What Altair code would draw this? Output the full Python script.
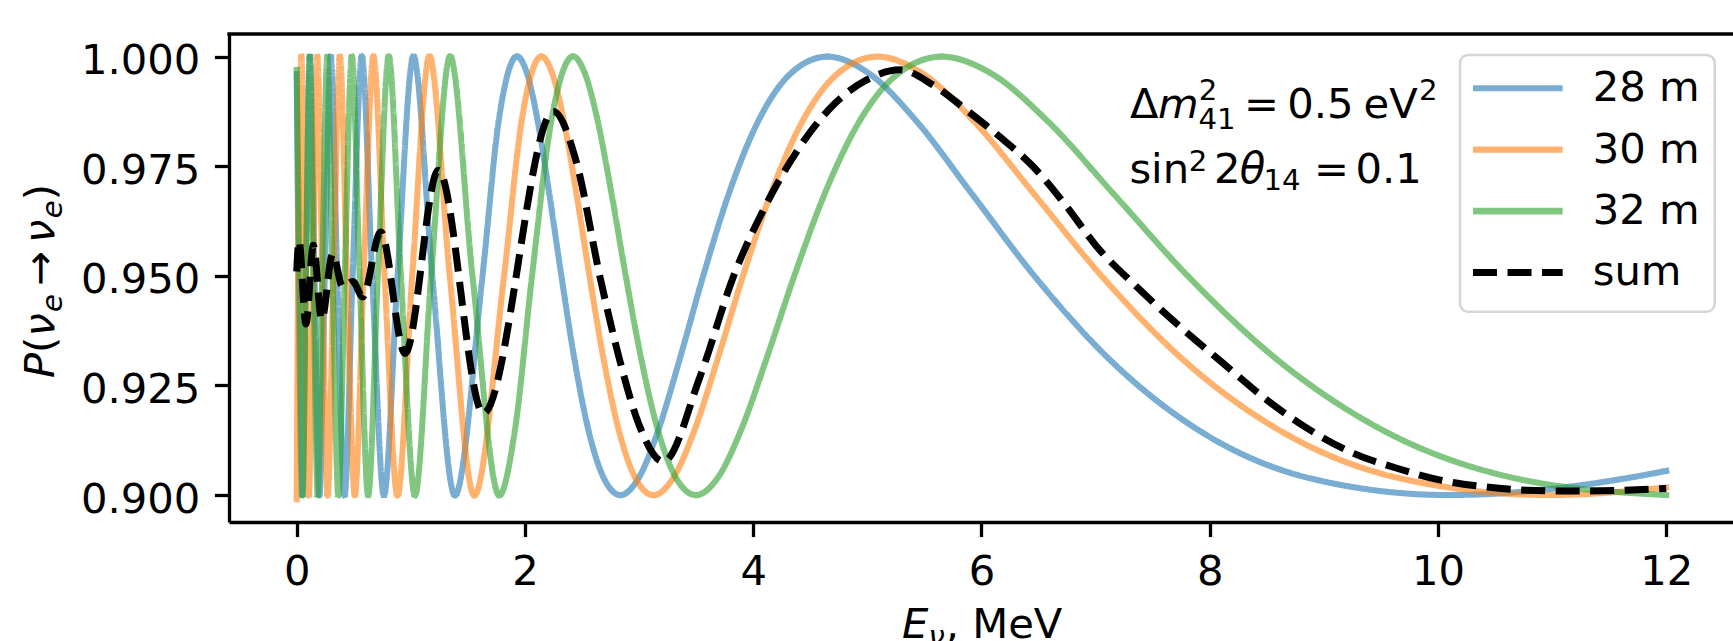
import altair as alt
import pandas as pd

FONT = "DejaVu Sans"
FS = 41.7      # main font size (px)
SFS = 29.2     # sub/superscript font size (px)

SERIES = ["28 m", "30 m", "32 m", "sum"]
COLORS = ["#1f77b4", "#ff7f0e", "#2ca02c", "#000000"]
LEGEND_COLORS = ["#79add2", "#ffb26e", "#80c680", "#000000"]   # colours at 0.6 alpha on white
OPACITY = [0.6, 0.6, 0.6, 1.0]
WIDTHS = [6.0, 6.0, 6.0, 7.0]
DASHES = [[1, 0], [1, 0], [1, 0], [24, 10.5]]

X_TICKS = [0, 2, 4, 6, 8, 10, 12]
Y_TICKS = [0.900, 0.925, 0.950, 0.975, 1.000]

# 28 m
E_28 = [0.0, 0.016, 0.047, 0.080, 0.117, 0.156, 0.199, 0.246, 0.298, 0.355, 0.419, 0.490,
        0.570, 0.661, 0.764, 0.884, 1.023, 1.188, 1.386, 1.628, 1.770, 1.930, 2.018, 2.111,
        2.211, 2.319, 2.434, 2.558, 2.692, 2.837, 2.994, 3.166, 3.355, 3.562, 3.791, 4.046,
        4.330, 4.650, 5.013, 5.427, 5.905, 6.463, 7.123, 7.914, 8.881, 10.09, 11.644, 12.0]
P_28 = [0.996, 0.95, 0.90, 0.95, 1.0, 0.95, 0.90, 0.95, 1.0, 0.95, 0.90, 0.95,
        1.0, 0.95, 0.90, 0.95, 1.0, 0.95, 0.90, 0.95, 0.9854, 1.0, 0.9962, 0.9854,
        0.9691, 0.95, 0.9309, 0.9146, 0.9038, 0.90, 0.9038, 0.9146, 0.9309, 0.95, 0.9691, 0.9854,
        0.9962, 1.0, 0.9962, 0.9854, 0.9691, 0.95, 0.9309, 0.9146, 0.9038, 0.90, 0.9038, 0.9055]

# 30 m
E_30 = [0.0, 0.012, 0.041, 0.072, 0.106, 0.142, 0.181, 0.224, 0.271, 0.322, 0.378, 0.440,
        0.509, 0.586, 0.672, 0.770, 0.883, 1.012, 1.163, 1.341, 1.556, 1.817, 1.971, 2.144,
        2.239, 2.341, 2.449, 2.565, 2.690, 2.824, 2.969, 3.126, 3.297, 3.483, 3.687, 3.911,
        4.159, 4.434, 4.742, 5.089, 5.481, 5.930, 6.448, 7.052, 7.765, 8.622, 9.669, 10.978, 12.0]
P_30 = [0.899, 0.95, 1.0, 0.95, 0.90, 0.95, 1.0, 0.95, 0.90, 0.95, 1.0, 0.95,
        0.90, 0.95, 1.0, 0.95, 0.90, 0.95, 1.0, 0.95, 0.90, 0.95, 0.9854, 1.0,
        0.9962, 0.9854, 0.9691, 0.95, 0.9309, 0.9146, 0.9038, 0.90, 0.9038, 0.9146, 0.9309, 0.95,
        0.9691, 0.9854, 0.9962, 1.0, 0.9962, 0.9854, 0.9691, 0.95, 0.9309, 0.9146, 0.9038, 0.90, 0.9017]

# 32 m
E_32 = [0.0, 0.024, 0.052, 0.081, 0.113, 0.147, 0.184, 0.224, 0.267, 0.314, 0.365, 0.421,
        0.483, 0.551, 0.626, 0.711, 0.806, 0.913, 1.036, 1.178, 1.344, 1.540, 1.775, 1.911,
        2.062, 2.231, 2.421, 2.525, 2.637, 2.756, 2.883, 3.020, 3.167, 3.326, 3.498, 3.686,
        3.890, 4.114, 4.360, 4.632, 4.934, 5.272, 5.653, 6.083, 6.576, 7.144, 7.807, 8.590,
        9.530, 10.679, 12.0]
P_32 = [0.997, 0.95, 0.90, 0.95, 1.0, 0.95, 0.90, 0.95, 1.0, 0.95, 0.90, 0.95,
        1.0, 0.95, 0.90, 0.95, 1.0, 0.95, 0.90, 0.95, 1.0, 0.95, 0.90, 0.9146,
        0.95, 0.9854, 1.0, 0.9962, 0.9854, 0.9691, 0.95, 0.9309, 0.9146, 0.9038, 0.90, 0.9038,
        0.9146, 0.9309, 0.95, 0.9691, 0.9854, 0.9962, 1.0, 0.9962, 0.9854, 0.9691, 0.95, 0.9309,
        0.9146, 0.9038, 0.900]

# sum
E_SUM = [0.0, 0.02, 0.081, 0.146, 0.219, 0.315, 0.403, 0.491, 0.578, 0.736, 0.949, 1.241,
         1.635, 2.249, 2.45, 2.657, 2.83, 3.0, 3.212, 3.534, 3.826, 4.118, 4.41, 4.702,
         4.994, 5.286, 5.578, 5.87, 6.162, 6.454, 6.747, 7.0, 7.36, 7.74, 8.12, 8.50,
         8.88, 9.26, 9.64, 10.02, 10.40, 10.78, 11.16, 11.54, 12.0]
P_SUM = [0.951, 0.958, 0.939, 0.957, 0.940, 0.955, 0.9475, 0.9487, 0.9452, 0.960, 0.9323, 0.9741,
         0.9186, 0.9875, 0.976, 0.9498, 0.9308, 0.916, 0.9076, 0.927, 0.9498, 0.9665, 0.9795, 0.9890,
         0.9947, 0.997, 0.9935, 0.9878, 0.9817, 0.9749, 0.9658, 0.957, 0.9475, 0.9384, 0.930, 0.9217,
         0.9148, 0.9095, 0.9061, 0.9034, 0.9019, 0.9011, 0.9009, 0.9010, 0.9015]

frames = []
for name, es, ps in [("28 m", E_28, P_28), ("30 m", E_30, P_30),
                     ("32 m", E_32, P_32), ("sum", E_SUM, P_SUM)]:
    d = pd.DataFrame({"E": es, "P": ps})
    d["series"] = name
    frames.append(d)
df = pd.concat(frames, ignore_index=True)

W, H = 1504, 488
PAD_L, PAD_T = 229, 34

x_scale = alt.Scale(domain=[-0.5932, 12.585], nice=False, zero=False)
y_scale = alt.Scale(domain=[0.89384, 1.00518], nice=False, zero=False)

x_axis = alt.Axis(values=X_TICKS, format="d", title=None, grid=False,
                  labelFont=FONT, labelFontSize=FS, labelColor="black",
                  tickColor="black", tickWidth=3.3, tickSize=14.6,
                  domainColor="black", domainWidth=3.3, labelPadding=14.5,
                  labelFlush=False, labelOverlap=False)
y_axis = alt.Axis(values=Y_TICKS, format=".3f", title=None, grid=False,
                  labelFont=FONT, labelFontSize=FS, labelColor="black",
                  tickColor="black", tickWidth=3.3, tickSize=14.6,
                  domainColor="black", domainWidth=3.3, labelPadding=14.6,
                  labelOffset=4, labelFlush=False, labelOverlap=False)

X_ENC = alt.X("E:Q", scale=x_scale, axis=x_axis)
Y_ENC = alt.Y("P:Q", scale=y_scale, axis=y_axis)

base = alt.Chart(df)
lines = []
for name, col, op, sw, dash in zip(SERIES, COLORS, OPACITY, WIDTHS, DASHES):
    cap = "butt" if name == "sum" else "square"
    lines.append(
        base.transform_filter(alt.datum.series == name)
        .mark_line(interpolate="monotone", color=col, opacity=op, strokeWidth=sw,
                   strokeDash=dash, strokeCap=cap, strokeJoin="round")
        .encode(x=X_ENC, y=Y_ENC)
    )

# legend frame (matplotlib-style rounded box)
legend_box = alt.Chart(pd.DataFrame({"a": [0]})).mark_rect(
    cornerRadius=8, stroke="#d6d6d6", strokeWidth=2.6, fill="white", fillOpacity=0.8
).encode(x=alt.value(1231), x2=alt.value(1485.7), y=alt.value(21), y2=alt.value(277.7))

# legend-only layer (draws no data, carries the legend)
legend = alt.Legend(
    title=None, orient="none", legendX=1254, legendY=19.4,
    symbolType="M-4,0H4", symbolSize=502,
    labelFont=FONT, labelFontSize=FS, labelColor="black",
    labelOffset=54, rowPadding=18.4, padding=14,
)
legend_layer = base.transform_filter("false").mark_line().encode(
    x=X_ENC, y=Y_ENC,
    color=alt.Color("series:N", scale=alt.Scale(domain=SERIES, range=LEGEND_COLORS), legend=legend),
    strokeDash=alt.StrokeDash("series:N", scale=alt.Scale(domain=SERIES, range=DASHES), legend=legend),
    strokeWidth=alt.StrokeWidth("series:N", scale=alt.Scale(domain=SERIES, range=[6.0, 7.0]), legend=legend),
)

top_rule = alt.Chart(pd.DataFrame({"a": [0]})).mark_rule(
    color="black", strokeWidth=3.3, strokeCap="square"
).encode(x=alt.value(0), x2=alt.value(W), y=alt.value(0))


def txt(s, x, y, size=FS, italic=False, angle=0):
    return alt.Chart(pd.DataFrame({"t": [s]})).mark_text(
        align="left", baseline="alphabetic", font=FONT, fontSize=size,
        fontStyle="italic" if italic else "normal", angle=angle, color="black"
    ).encode(x=alt.value(x), y=alt.value(y), text="t:N")


texts = []
# annotation line 1:  Δm²₄₁ = 0.5 eV²
L1 = 84.3
texts += [
    txt("Δ", 901, L1),
    txt("m", 929, L1, italic=True),
    txt("2", 969.8, 66, size=SFS),
    txt("41", 969.5, 95.3, size=SFS),
    txt("=", 1015, L1),
    txt("0.5", 1058.3, L1),
    txt("eV", 1134.5, L1),
    txt("2", 1190, 66, size=SFS),
]
# annotation line 2:  sin² 2θ₁₄ = 0.1
L2 = 149.3
texts += [
    txt("sin", 900.4, L2),
    txt("2", 959.8, 137.3, size=SFS),
    txt("2", 985.1, L2),
    txt("θ", 1010.7, L2, italic=True),
    txt("14", 1034.5, 156, size=SFS),
    txt("=", 1085.1, L2),
    txt("0.1", 1126.6, L2),
]
# x axis title:  E_ν, MeV
XB = 604
texts += [
    txt("E", 673, XB, italic=True),
    txt("ν", 699.4, XB + 8.3, size=SFS, italic=True),
    txt(", MeV", 716.7, XB),
]
# y axis title:  P(ν_e → ν_e), rotated
YB = -175.3
YS = YB + 8.3
texts += [
    txt("P", YB, 344, italic=True, angle=270),
    txt("(", YB, 318.9, angle=270),
    txt("ν", YB, 302.6, italic=True, angle=270),
    txt("e", YS, 277.9, size=SFS, italic=True, angle=270),
    txt("→", YB, 251.9, angle=270),
    txt("ν", YB, 209, italic=True, angle=270),
    txt("e", YS, 184.3, size=SFS, italic=True, angle=270),
    txt(")", YB, 166.3, angle=270),
]

chart = alt.layer(*lines, legend_box, legend_layer, top_rule, *texts).properties(
    width=W, height=H,
    padding={"left": PAD_L, "top": PAD_T, "right": 0, "bottom": 641 - PAD_T - H},
    autosize=alt.AutoSizeParams(type="none"),
).configure_view(strokeWidth=0).configure(background="white")

chart.save("out.html", embed_options={"renderer": "svg", "actions": False})
